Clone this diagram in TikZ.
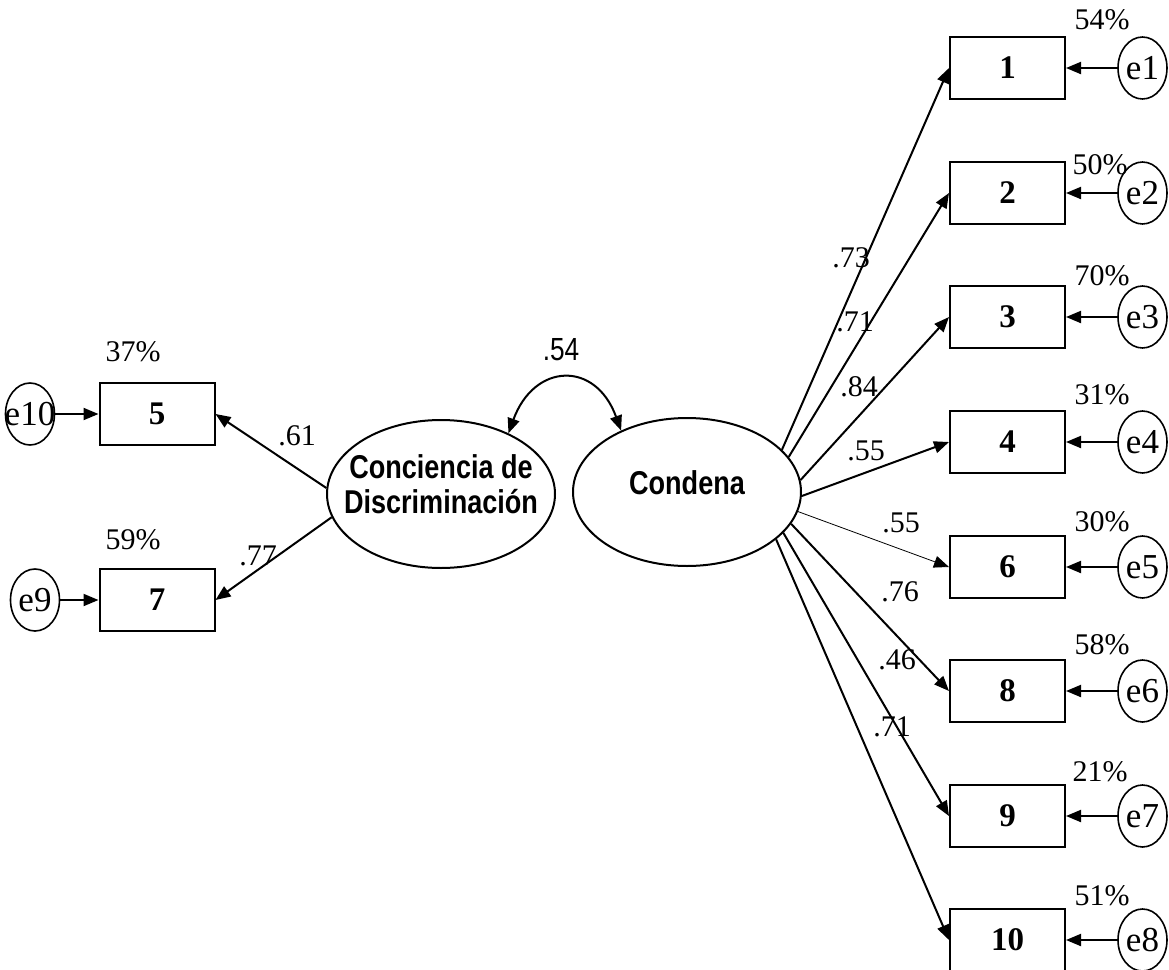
\documentclass[tikz,border=0pt]{standalone}
\usepackage{fontspec}
\setmainfont{Liberation Serif}
\newfontfamily\narrowsans[FakeStretch=0.82]{Liberation Sans}
\usetikzlibrary{shapes.geometric,arrows.meta}

\newcommand{\nowd}[1]{\makebox[0pt]{#1}}
\newcommand{\lvtxt}[1]{\makebox[0pt]{\smash{\raisebox{-2pt}{\begin{tabular}{@{}c@{}}#1\end{tabular}}}}}

\begin{document}
\begin{tikzpicture}[x=0.5pt, y=0.5pt,
    every node/.style={font=\fontsize{15}{18}\selectfont},
    item/.style={draw, line width=1pt, minimum width=57.5pt, minimum height=31pt, inner sep=0pt, font=\fontsize{16.5}{18}\selectfont\bfseries},
    err/.style={draw, ellipse, line width=0.8pt, minimum width=24.5pt, minimum height=31pt, inner sep=0pt, font=\fontsize{17.5}{18}\selectfont},
    factor/.style={draw, ellipse, line width=1pt, minimum width=114pt, minimum height=74pt, inner sep=0pt, font=\fontsize{16.5}{17.5}\selectfont\narrowsans\bfseries},
    load/.style={-{Triangle[length=7.5pt,width=6pt]}, line width=1pt},
    thinload/.style={-{Triangle[length=7.5pt,width=6pt]}, line width=0.4pt}]

    \useasboundingbox (0,0) rectangle (1169,-970);

    % latent factors
    \node[factor] (cdis) at (441,-494) {\lvtxt{Conciencia de\\Discriminación}};
    \node[factor] (cond) at (687,-492) {\lvtxt{Condena}};

    \draw[{Triangle[length=7.5pt,width=6pt]}-{Triangle[length=7.5pt,width=6pt]}, line width=1pt]
        (cdis.42) to[out=70, in=110, looseness=1.7] (cond.137);
    \node[font=\fontsize{16}{18}\selectfont\narrowsans] (r54) at (561,-350) {.54};

    % left side items
    \node[item] (b5) at (157,-414) {5};
    \node[item] (b7) at (157,-600) {7};
    \node[err] (e10) at (30,-414) {\nowd{e10}};
    \node[err] (e9) at (35,-600) {\nowd{e9}};
    \node (p5) at (133,-352) {37\%};
    \node (p7) at (133,-540) {59\%};

    \draw[load] (e10.east) -- (b5.west);
    \draw[load] (e9.east) -- (b7.west);
    \draw[load] (cdis.177) -- (b5.east);
    \draw[load] (cdis.192) -- (b7.east);
    \node (l5) at (297,-436) {.61};
    \node (l7) at (258,-556) {.77};

    % right side items
    \node[item] (b1) at (1007.5,-68) {1};
    \node[item] (b2) at (1007.5,-193) {2};
    \node[item] (b3) at (1007.5,-317) {3};
    \node[item] (b4) at (1007.5,-442) {4};
    \node[item] (b6) at (1007.5,-567) {6};
    \node[item] (b8) at (1007.5,-691) {8};
    \node[item] (b9) at (1007.5,-816) {9};
    \node[item] (b10) at (1007.5,-940) {10};

    \node[err] (e1) at (1142.5,-68) {\nowd{e1}};
    \node[err] (e2) at (1142.5,-193) {\nowd{e2}};
    \node[err] (e3) at (1142.5,-317) {\nowd{e3}};
    \node[err] (e4) at (1142.5,-442) {\nowd{e4}};
    \node[err] (e5) at (1142.5,-567) {\nowd{e5}};
    \node[err] (e6) at (1142.5,-691) {\nowd{e6}};
    \node[err] (e7) at (1142.5,-816) {\nowd{e7}};
    \node[err] (e8) at (1142.5,-940) {\nowd{e8}};

    \node (p1) at (1102,-20) {54\%};
    \node (p2) at (1100,-165) {50\%};
    \node (p3) at (1102,-276) {70\%};
    \node (p4) at (1102,-395) {31\%};
    \node (p6) at (1102,-522) {30\%};
    \node (p8) at (1102,-645) {58\%};
    \node (p9) at (1100,-772) {21\%};
    \node (p10) at (1102,-896) {51\%};

    \draw[load] (e1.west) -- (b1.east);
    \draw[load] (e2.west) -- (b2.east);
    \draw[load] (e3.west) -- (b3.east);
    \draw[load] (e4.west) -- (b4.east);
    \draw[load] (e5.west) -- (b6.east);
    \draw[load] (e6.west) -- (b8.east);
    \draw[load] (e7.west) -- (b9.east);
    \draw[load] (e8.west) -- (b10.east);

    \draw[load] (cond.24) -- (b1.west);
    \draw[load] (cond.19) -- (b2.west);
    \draw[load] (cond.6) -- (b3.west);
    \draw[load] (cond.-2) -- (b4.west);
    \draw[thinload] (cond.-10) -- (b6.west);
    \draw[load] (cond.-17) -- (b8.west);
    \draw[load] (cond.-23) -- (b9.west);
    \draw[load] (cond.-28) -- (b10.west);

    \node (l1) at (851,-258) {.73};
    \node (l2) at (855,-322) {.71};
    \node (l3) at (859,-387) {.84};
    \node (l4) at (866,-451) {.55};
    \node (l6) at (901,-523) {.55};
    \node (l8) at (900,-592) {.76};
    \node (l9) at (897,-660) {.46};
    \node (l10) at (892,-727) {.71};

\end{tikzpicture}
\end{document}
